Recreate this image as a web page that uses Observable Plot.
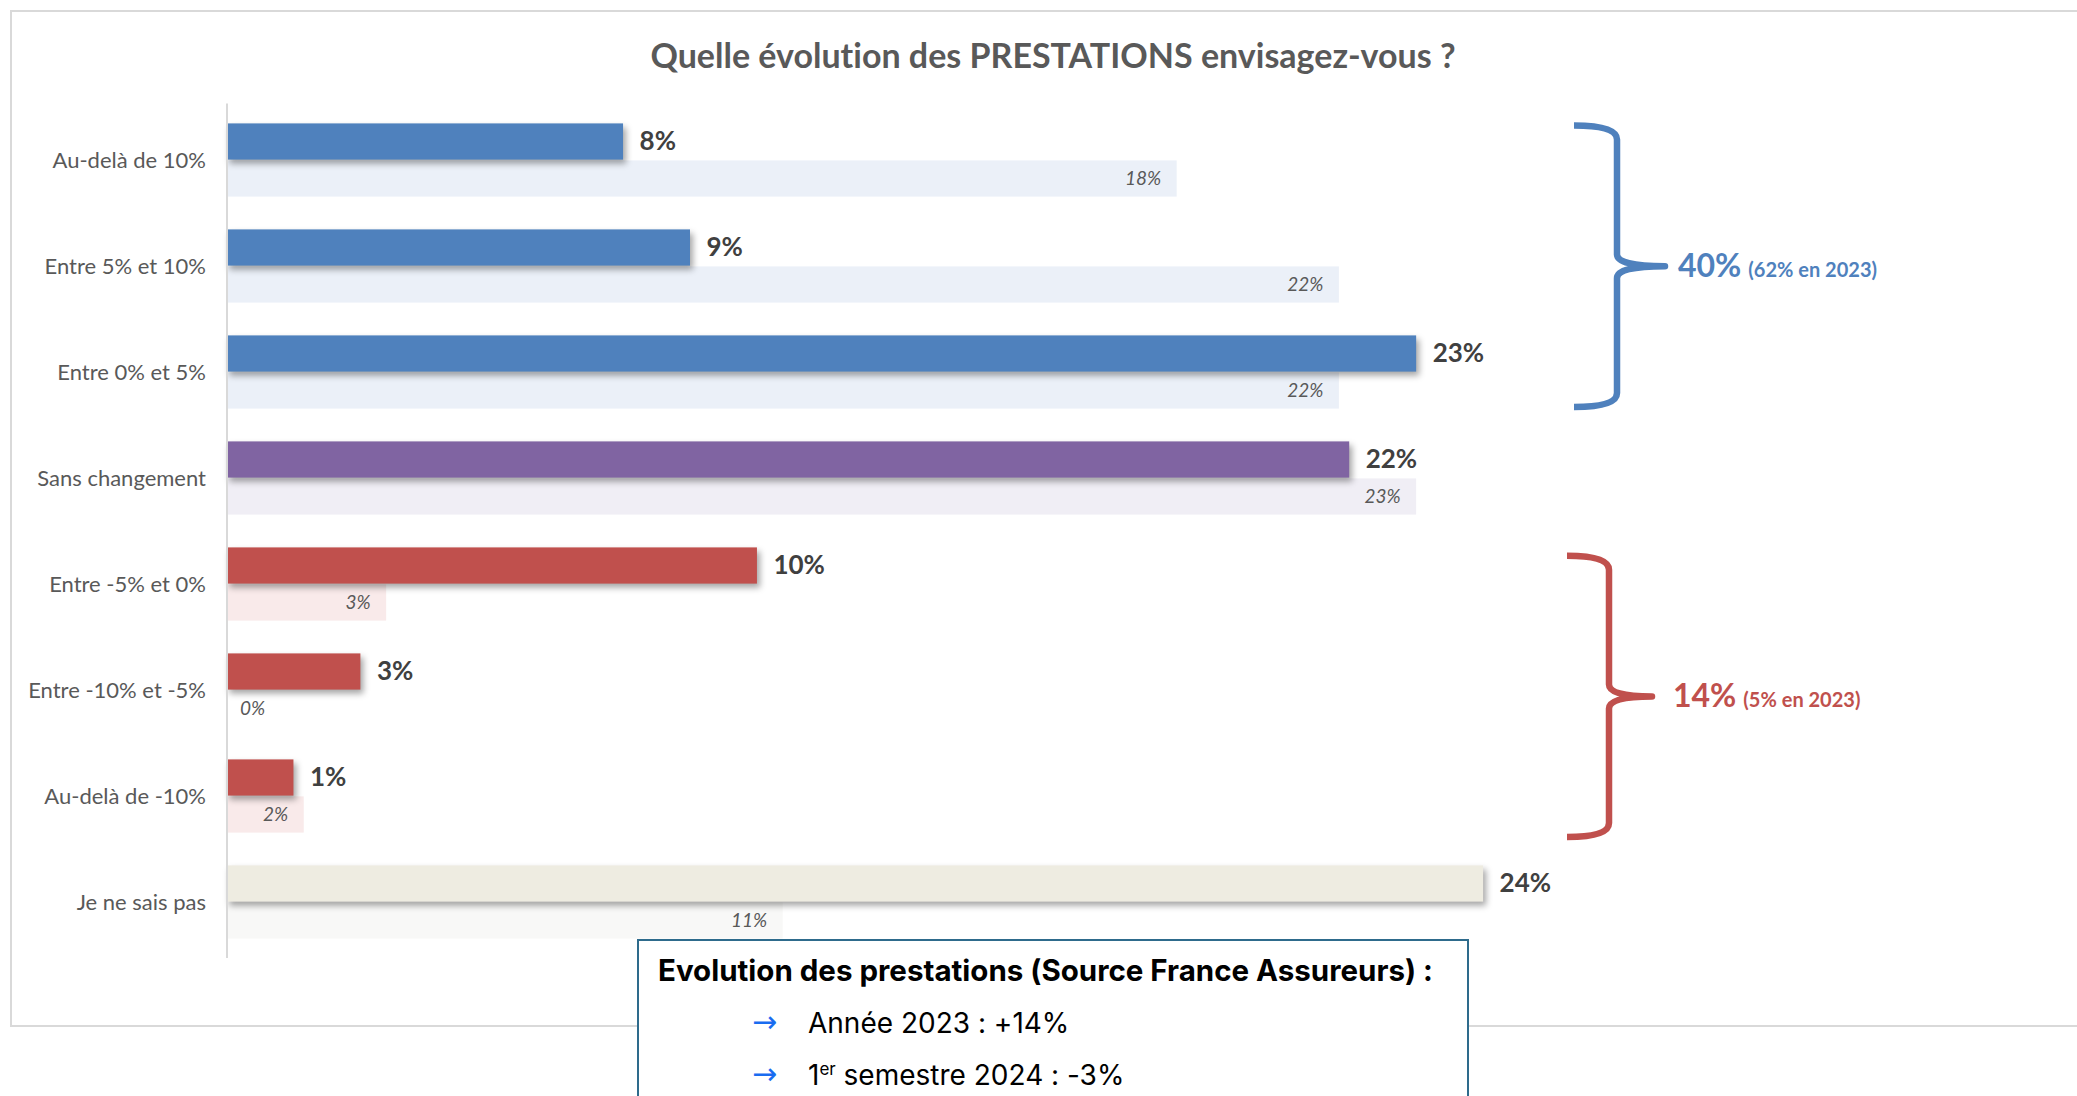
<!DOCTYPE html>
<html>
<head>
<meta charset="utf-8">
<script src="https://cdn.jsdelivr.net/npm/d3@7"></script>
<script src="https://cdn.jsdelivr.net/npm/@observablehq/plot@0.6"></script>
<style>
  body { margin: 0; background: #fff; }
  #page { position: relative; width: 2077px; height: 1096px; overflow: hidden; font-family: Lato, sans-serif; font-variant-ligatures: none; }
  #frame { position: absolute; left: 10px; top: 10px; width: 2100px; height: 1017px; border: 2px solid #d9d9d9; box-sizing: border-box; }
  #title { position: absolute; left: 0; width: 2106px; top: 35px; text-align: center; font: bold 34px Lato, sans-serif; color: #595959; line-height: 40px; font-variant-ligatures: none; }
  #chart { position: absolute; left: 0; top: 0; }
  #note { position: absolute; left: 637px; top: 939px; width: 832px; height: 200px; border: 2px solid #2e6b8c; background: #fff; box-sizing: border-box; font-family: Inter, Roboto, sans-serif; color: #000; }
  #note div { position: absolute; white-space: nowrap; line-height: 36px; }
  #note .head { left: 19px; top: 11px; font-weight: bold; font-size: 29.5px; }
  #note .arrow { color: #1a6cf0; font-size: 30px; font-family: "DejaVu Sans", sans-serif; }
  #note .item { font-size: 28px; }
  #note sup { font-size: 17px; vertical-align: 10px; line-height: 0; }
</style>
</head>
<body>
<div id="page">
  <div id="frame"></div>
  <div id="title">Quelle évolution des PRESTATIONS envisagez-vous ?</div>
  <div id="chart"></div>
  <div id="note">
    <div class="head">Evolution des prestations (Source France Assureurs) :</div>
    <div class="arrow" style="left:113px; top:63px;">→</div>
    <div class="item" style="left:169px; top:64px;">Année 2023 : +14%</div>
    <div class="arrow" style="left:113px; top:115px;">→</div>
    <div class="item" style="left:169px; top:116px;">1<sup>er</sup> semestre 2024 : -3%</div>
  </div>
</div>
<script>
// ---- data ----
const categories = [
  "Au-delà de 10%", "Entre 5% et 10%", "Entre 0% et 5%", "Sans changement",
  "Entre -5% et 0%", "Entre -10% et -5%", "Au-delà de -10%", "Je ne sais pas"
];
const values2024 = [7.7, 9.0, 23.1, 21.8, 10.3, 2.6, 1.3, 24.4];
const values2023 = [18.45, 21.6, 21.6, 23.1, 3.1, 0, 1.5, 10.8];
const groups = ["hausse", "hausse", "hausse", "stable", "baisse", "baisse", "baisse", "nsp"];
const bracketGroups = ["hausse", "baisse"];
const bracketTotals = ["40%", "14%"];
const bracketPrevious = ["(62% en 2023)", "(5% en 2023)"];

// ---- styles ----
const mainColors = {hausse: "#4f81bd", stable: "#8064a2", baisse: "#c0504d", nsp: "#eeece1"};
const prevColors = {hausse: "#ebf0f8", stable: "#f0eef5", baisse: "#f9eaea", nsp: "#f8f8f7"};

const rows = categories.map((c, i) => ({category: c, group: groups[i], cur: values2024[i], prev: values2023[i]}));

const W = 2077, H = 1096;
const mLeft = 226.5, mTop = 103.5, step = 106.8;
const mBottom = H - (mTop + step * categories.length);
const half = step / 2;
const barH = 37;
const pxPerPct = 51.5, xMax = 30;
const mRight = W - (mLeft + xMax * pxPerPct);
const fmt = v => Math.round(v) + "%";

const plot = Plot.plot({
  width: W, height: H,
  marginLeft: mLeft, marginRight: mRight, marginTop: mTop, marginBottom: mBottom,
  x: {domain: [0, xMax], axis: null},
  y: {domain: categories, padding: 0, tickSize: 0, tickPadding: 21, label: null},
  color: {type: "identity"},
  style: {fontFamily: "Lato, sans-serif", fontSize: "22px", color: "#595959", background: "transparent", overflow: "visible"},
  marks: [
    Plot.barX(rows, {y: "category", x: "prev", fill: d => prevColors[d.group], insetTop: half, insetBottom: half - barH}),
    Plot.barX(rows, {y: "category", x: "cur", fill: d => mainColors[d.group], insetTop: half - barH, insetBottom: half}),
    Plot.ruleX([0], {stroke: "#d9d9d9", strokeWidth: 2}),
    Plot.text(rows, {y: "category", x: "cur", text: d => fmt(d.cur), dx: 16, dy: -18.5, textAnchor: "start",
      fontWeight: "bold", fontSize: 26, fill: "#404040"}),
    Plot.text(rows.filter(d => d.prev > 0), {y: "category", x: "prev", text: d => fmt(d.prev), dx: -16, dy: 18.5,
      textAnchor: "end", fontStyle: "italic", fontSize: 19, fill: "#595959"}),
    Plot.text(rows.filter(d => d.prev === 0), {y: "category", x: "prev", text: d => fmt(d.prev), dx: 13, dy: 18.5,
      textAnchor: "start", fontStyle: "italic", fontSize: 19, fill: "#595959"})
  ]
});
document.getElementById("chart").appendChild(plot);

// drop shadows on the 2024 bars
const barGroups = plot.querySelectorAll('g[aria-label="bar"]');
if (barGroups[1]) barGroups[1].style.filter = "drop-shadow(3px 4px 3px rgba(0,0,0,0.35))";

// braces
const yBand = d3.scaleBand().domain(categories).range([mTop, H - mBottom]).padding(0);
const bw = yBand.bandwidth();
const svg = d3.select(plot);
const braceStyle = {
  hausse: {color: "#4f81bd", x0: 1574, xs: 1617, xt: 1665, lx: 1678, topOff: 22, botOff: 17},
  baisse: {color: "#c0504d", x0: 1567, xs: 1609, xt: 1652, lx: 1673, topOff: 25, botOff: 14}
};
bracketGroups.forEach((g, k) => {
  const cats = categories.filter((c, i) => groups[i] === g);
  const st = braceStyle[g];
  const yt = yBand(cats[0]) + st.topOff;
  const yb = yBand(cats[cats.length - 1]) + bw - st.botOff;
  const ym = (yt + yb) / 2;
  const r = 14, r2 = 12;
  const path = `M${st.x0},${yt} Q${st.xs},${yt} ${st.xs},${yt + r} L${st.xs},${ym - r2} Q${st.xs},${ym} ${st.xt},${ym}`
    + ` Q${st.xs},${ym} ${st.xs},${ym + r2} L${st.xs},${yb - r} Q${st.xs},${yb} ${st.x0},${yb}`;
  svg.append("path").attr("d", path).attr("fill", "none").attr("stroke", st.color)
    .attr("stroke-width", 6.5).attr("stroke-linejoin", "round");
  const t = svg.append("text").attr("x", st.lx).attr("y", ym + 11).attr("text-anchor", "start")
    .attr("fill", st.color).attr("font-family", "Lato, sans-serif").attr("font-weight", "bold");
  t.append("tspan").attr("font-size", 32).text(bracketTotals[k]);
  t.append("tspan").attr("font-size", 20).attr("dx", 7).text(bracketPrevious[k]);
});
</script>
</body>
</html>
